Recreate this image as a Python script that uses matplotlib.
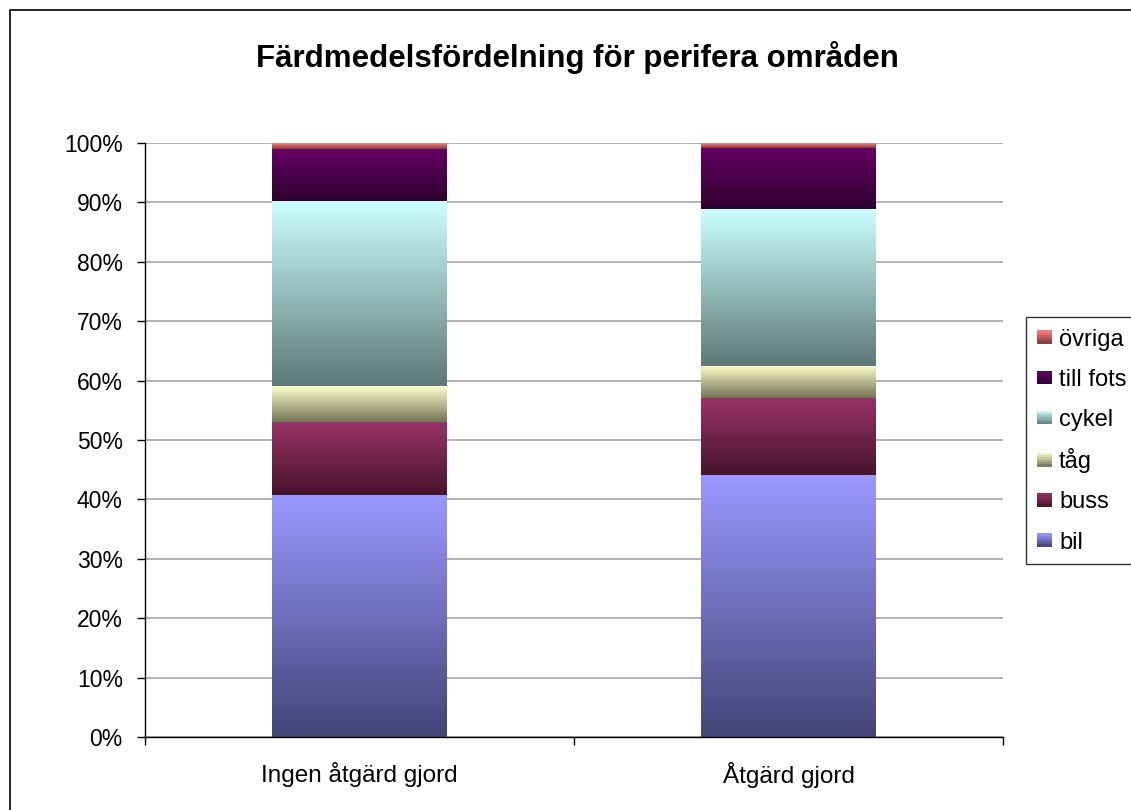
import numpy as np
import matplotlib
matplotlib.use("Agg")
import matplotlib.pyplot as plt
from matplotlib.patches import Rectangle
from matplotlib.colors import LinearSegmentedColormap
from matplotlib.legend_handler import HandlerBase

plt.rcParams['font.family'] = ['Liberation Sans', 'DejaVu Sans']

categories = ["Ingen åtgärd gjord", "Åtgärd gjord"]
series_names = ["bil", "buss", "tåg", "cykel", "till fots", "övriga"]
bil = [40.7, 44.1]
buss = [12.4, 13.0]
tag = [6.0, 5.4]
cykel = [31.1, 26.4]
till_fots = [8.8, 10.3]
ovriga = [1.0, 0.8]
values = [bil, buss, tag, cykel, till_fots, ovriga]
yticks = [0, 10, 20, 30, 40, 50, 60, 70, 80, 90, 100]
ytick_labels = [f"{t}%" for t in yticks]

# (top colour, bottom colour) of each vertical gradient
grads = [("#9999ff", "#444477"),
         ("#993366", "#47142c"),
         ("#ffffcc", "#737355"),
         ("#ccffff", "#5e7878"),
         ("#660066", "#2e002e"),
         ("#ff8080", "#7a3c3c")]

W, H = 1131, 810
fig = plt.figure(figsize=(W/100, H/100), dpi=100)
fig.patches.append(Rectangle((10/W, -0.01), 1.1, 1 - 10/H + 0.01, transform=fig.transFigure,
                             fill=False, edgecolor='black', lw=1.2))
ax = fig.add_axes([145/W, (H-737)/H, (1003-145)/W, (737-143)/H])

x = np.arange(len(categories))
width = 0.406
bottom = np.zeros(len(categories))
grad_img = np.linspace(1, 0, 256).reshape(-1, 1)
for vals, (ctop, cbot), name in zip(values, grads, series_names):
    vals = np.array(vals)
    bars = ax.bar(x, vals, width, bottom=bottom, color='none', edgecolor='none', label=name)
    cmap = LinearSegmentedColormap.from_list(name, [cbot, ctop])
    for b in bars:
        x0, y0, w, h = b.get_x(), b.get_y(), b.get_width(), b.get_height()
        im = ax.imshow(grad_img, cmap=cmap, aspect='auto', extent=[x0, x0 + w, y0, y0 + h],
                       origin='upper', zorder=2, vmin=0, vmax=1, interpolation='bilinear')
        im.set_clip_path(b)
    bottom += vals

ax.set_xlim(-0.5, len(categories) - 0.5)
ax.set_ylim(0, 100)
ax.set_yticks(yticks)
ax.set_yticklabels(ytick_labels, fontsize=16.5)
ax.set_xticks(x)
ax.set_xticklabels(categories, fontsize=17.5)
ax.tick_params(axis='x', length=0, pad=18)
ax.set_xticks([-0.5, 0.5, 1.5], minor=True)
ax.tick_params(axis='x', which='minor', length=6, direction='out', width=1)
ax.tick_params(axis='y', length=6, direction='out', width=1, pad=10)
ax.yaxis.grid(True, color='#a6a6a6', lw=1.2, zorder=0)
ax.set_axisbelow(True)
for s in ['top', 'right']:
    ax.spines[s].set_visible(False)
for s in ['left', 'bottom']:
    ax.spines[s].set_color('black')
    ax.spines[s].set_linewidth(1)

fig.text(577/W, 1 - 57/H, "Färdmedelsfördelning för perifera områden", ha='center', va='center',
         fontsize=22.5, fontweight='bold')


class GradHandler(HandlerBase):
    def __init__(self, ctop, cbot):
        super().__init__()
        self.ctop, self.cbot = ctop, cbot

    def create_artists(self, legend, orig_handle, xdescent, ydescent, width, height, fontsize, trans):
        n = 6
        arts = []
        w = width
        h = width * 0.85
        x0 = -xdescent
        y0 = -ydescent + (height - h) / 2
        c1 = np.array(matplotlib.colors.to_rgb(self.ctop))
        c2 = np.array(matplotlib.colors.to_rgb(self.cbot))
        for i in range(n):
            t = (i + 0.5) / n
            col = c1 * (1 - t) + c2 * t
            r = Rectangle((x0, y0 + h * (1 - (i + 1) / n)), w, h / n + 0.3,
                          facecolor=col, edgecolor='none', transform=trans)
            arts.append(r)
        return arts

handles, labels = ax.get_legend_handles_labels()
hmap = {h: GradHandler(*g) for h, g in zip(handles, grads)}
leg = fig.legend(handles[::-1], labels[::-1], loc='upper left', bbox_to_anchor=(1026/W, 1 - 317/H),
                 handler_map=hmap, fontsize=17, frameon=True, fancybox=False, edgecolor='black',
                 handlelength=0.65, handleheight=0.9, handletextpad=0.3, labelspacing=0.73,
                 borderpad=0.45, borderaxespad=0)
leg.get_frame().set_linewidth(1)

fig.savefig("out.png", dpi=100)
